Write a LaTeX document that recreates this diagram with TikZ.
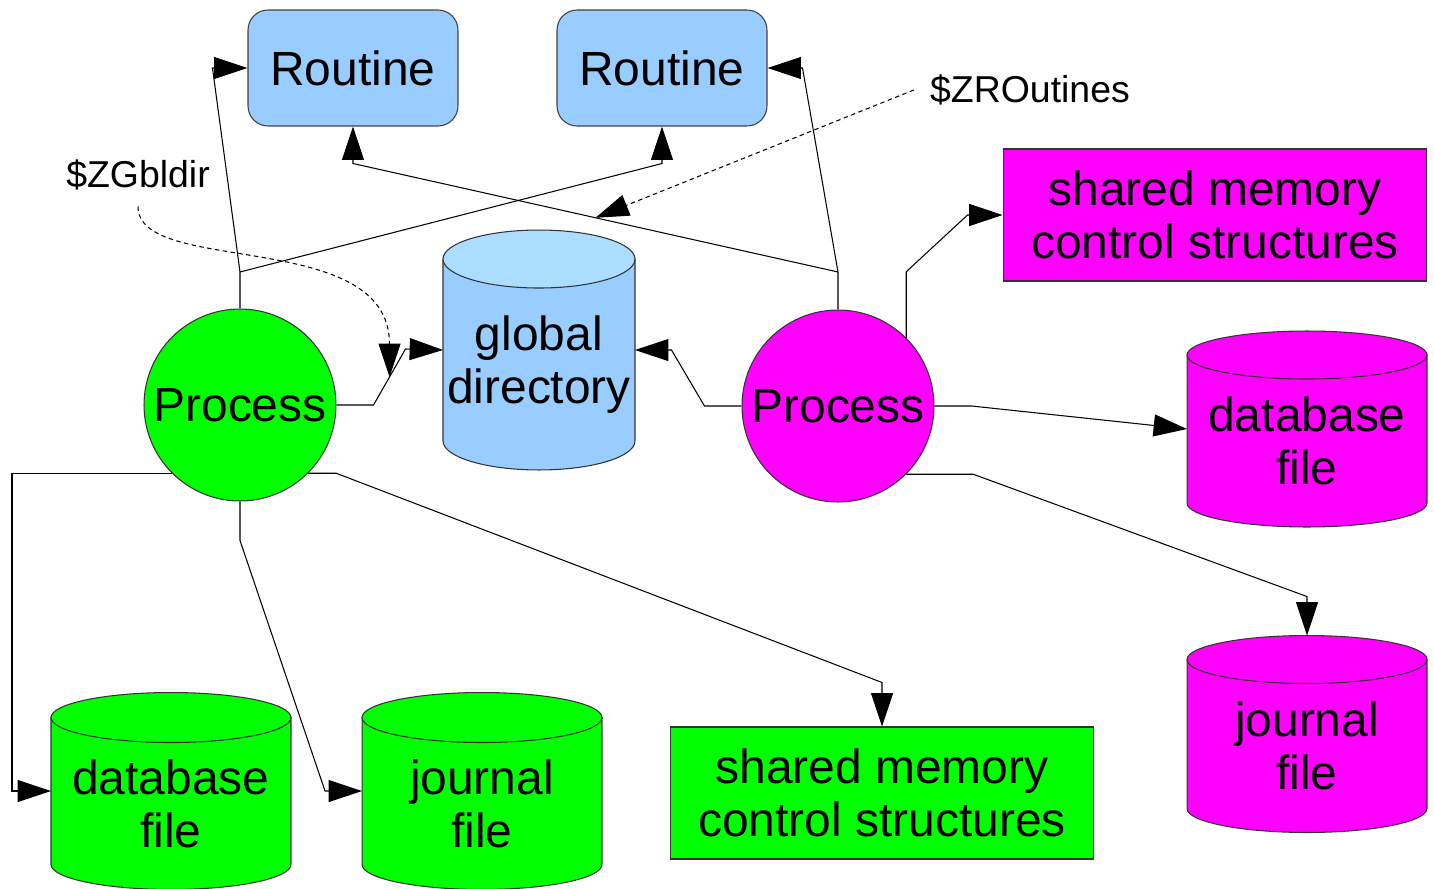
\documentclass[tikz,border=0pt]{standalone}
\usepackage{fontspec}
\setmainfont{Liberation Sans}
\usetikzlibrary{arrows.meta,calc}

\definecolor{routineblue}{RGB}{153,204,255}
\definecolor{dirtop}{RGB}{170,221,255}
\definecolor{procgreen}{RGB}{0,255,0}
\definecolor{procmagenta}{RGB}{255,0,255}

\tikzset{
  big/.style={font=\fontsize{27.3}{30}\selectfont},
  routine/.style={big, draw=black!75, fill=routineblue, rounded corners=0.4cm,
    minimum width=4.2cm, minimum height=2.32cm},
  process/.style={big, circle, draw=black!80, minimum size=3.84cm, inner sep=0pt},
  shm/.style={big, draw=black!80, align=center, minimum width=8.48cm, minimum height=2.64cm},
  envvar/.style={font=\fontsize{21.3}{24}\selectfont, inner sep=9pt},
  conn/.style={-{Triangle[length=19pt,width=12.5pt]}},
  envconn/.style={conn, dash pattern=on 2.5pt off 2pt},
  % half width, half height, end radius, body colour, top colour, text
  pics/drum/.style n args={6}{code={
    \filldraw[fill=#4, draw=black!80] (-#1,{#2-#3}) -- (-#1,{#3-#2})
      arc[start angle=180, end angle=360, x radius=#1, y radius=#3] -- (#1,{#2-#3}) -- cycle;
    \filldraw[fill=#5, draw=black!80] (0,{#2-#3}) ellipse[x radius=#1, y radius=#3];
    \node[big, align=center] (-label) at (0,{-0.5*#3}) {#6};
    \coordinate (-top) at (0,#2);
    \coordinate (-west) at (-#1,0);
    \coordinate (-east) at (#1,0);
  }}
}

\begin{document}
\begin{tikzpicture}[x=0.02cm, y=-0.02cm, line width=0.6pt]
\useasboundingbox (0,0) rectangle (1434,889);

% routines and global directory
\node[routine] (rt1) at (353,68) {Routine};
\node[routine] (rt2) at (662,68) {Routine};
\pic (gd) at (539,350) {drum={1.92cm}{2.4cm}{0.58cm}{routineblue}{dirtop}{global\\directory}};

% the two processes
\node[process, fill=procgreen] (gp) at (240,405) {Process};
\node[process, fill=procmagenta] (mp) at (838,406) {Process};

% magenta side
\node[shm, fill=procmagenta] (mshm) at (1215,215) {shared memory\\control structures};
\pic (mdb) at (1307,429) {drum={2.4cm}{1.96cm}{0.48cm}{procmagenta}{procmagenta}{database\\file}};
\pic (mjf) at (1307,734) {drum={2.4cm}{1.97cm}{0.48cm}{procmagenta}{procmagenta}{journal\\file}};

% green side
\pic (gdb) at (171,791) {drum={2.4cm}{1.97cm}{0.5cm}{procgreen}{procgreen}{database\\file}};
\pic (gjf) at (482,791) {drum={2.4cm}{1.97cm}{0.5cm}{procgreen}{procgreen}{journal\\file}};
\node[shm, fill=procgreen] (gshm) at (882,793) {shared memory\\control structures};

% environment variables
\node[envvar] (zgb) at (138,175) {\$ZGbldir};
\node[envvar] (zro) at (1030,90) {\$ZROutines};

% process -> routines
\coordinate (gsplit) at (240,272);
\coordinate (msplit) at (838,272);
\draw[conn] (gp.north) -- (gsplit) -- ($(rt1.west)+(-35,0)$) -- (rt1.west);
\draw[conn] (gsplit) -- ($(rt2.south)+(0,37)$) -- (rt2.south);
\draw[conn] (mp.north) -- (msplit) -- ($(rt2.east)+(35,0)$) -- (rt2.east);
\draw[conn] (msplit) -- coordinate[pos=.5] (rtmid) ($(rt1.south)+(0,37)$) -- (rt1.south);

% process -> global directory
\draw[conn] (gp.east) -- ++(37,0) -- coordinate[pos=.5] (gdmid) ++(32,-56) -- (gd-west);
\draw[conn] (mp.west) -- ++(-37,0) -- ++(-33,-56) -- (gd-east);

% magenta process -> its files
\draw[conn] (mp.45) -- ++(0,-66) -- ($(mshm.west)+(-35,0)$) -- (mshm.west);
\draw[conn] (mp.east) -- ++(37,0) -- (mdb-west);
\draw[conn] (mp.-45) -- ++(67,0) -- ($(mjf-top)+(0,-39)$) -- (mjf-top);

% green process -> its files
\draw[conn] (gp.-135) -| ($(gdb-west)+(-39,0)$) -- (gdb-west);
\draw[conn] (gp.south) -- ++(0,39) -- ($(gjf-west)+(-37,0)$) -- (gjf-west);
\draw[conn] (gp.-45) -- ++(28,0) -- ($(gshm.north)+(0,-44)$) -- (gshm.north);

% environment variables
\draw[envconn] (zro.west) -- (rtmid);
\draw[envconn] (zgb.south) .. controls +(0,70) and +(0,-150) .. (gdmid);
\end{tikzpicture}
\end{document}
